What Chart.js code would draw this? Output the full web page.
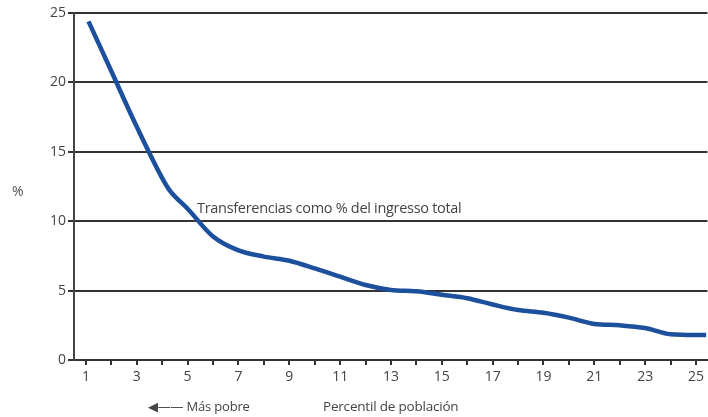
<!DOCTYPE html>
<html>
<head>
<meta charset="utf-8">
<script src="https://cdn.jsdelivr.net/npm/chart.js@4/dist/chart.umd.min.js"></script>
<style>
  html, body { margin: 0; padding: 0; background: #fff; }
  #wrap { position: relative; width: 708px; height: 417px; overflow: hidden; }
  .lbl { position: absolute; font-family: "Open Sans", "Noto Sans", sans-serif; color: #444; white-space: nowrap; }
</style>
</head>
<body>
<div id="wrap">
  <canvas id="c" width="708" height="417"></canvas>
  <div class="lbl" style="left:12px; top:181px; font-size:14px; color:#555;">%</div>
  <div class="lbl" style="left:197px; top:198px; font-size:14.5px; letter-spacing:-0.3px;">Transferencias como % del ingresso total</div>
  <div class="lbl" style="left:148px; top:397px; font-size:13px; letter-spacing:-0.2px;">&#9664;&#8212;&#8212; Más pobre</div>
  <div class="lbl" style="left:323px; top:397px; font-size:13.5px; letter-spacing:-0.2px;">Percentil de población</div>
</div>
<script>
const percentiles = [1.1, 2, 3, 4, 4.3, 5, 6, 7, 8, 9, 10, 11, 12, 13, 14, 15, 16, 17, 18, 19, 20, 21, 22, 23, 24, 25, 25.4];
const transferShare = [24.4, 20.8, 16.8, 13.1, 12.2, 10.9, 8.9, 7.9, 7.45, 7.15, 6.6, 6.0, 5.4, 5.05, 4.95, 4.7, 4.45, 4.0, 3.6, 3.4, 3.05, 2.6, 2.5, 2.3, 1.85, 1.8, 1.8];
const xTickValues = [1,2,3,4,5,6,7,8,9,10,11,12,13,14,15,16,17,18,19,20,21,22,23,24,25];
const yTickValues = [0, 5, 10, 15, 20, 25];

const points = percentiles.map((x, i) => ({ x: x, y: transferShare[i] }));
const tickFont = { family: "'Open Sans', 'Noto Sans', sans-serif", size: 14 };

new Chart(document.getElementById('c'), {
  type: 'line',
  data: {
    datasets: [{
      data: points,
      borderColor: '#1c4f9c',
      borderWidth: 4.5,
      pointRadius: 0,
      tension: 0.35,
      cubicInterpolationMode: 'monotone',
      fill: false
    }]
  },
  options: {
    responsive: false,
    animation: false,
    layout: { padding: { top: 13, right: 0, left: 0, bottom: 0 } },
    plugins: { legend: { display: false }, tooltip: { enabled: false }, title: { display: false } },
    scales: {
      x: {
        type: 'linear',
        min: 0.53,
        max: 25.45,
        afterBuildTicks: (axis) => { axis.ticks = xTickValues.map(v => ({ value: v })); },
        afterFit: (axis) => { axis.height = 57; },
        ticks: {
          autoSkip: false,
          maxRotation: 0,
          padding: 4,
          color: '#444',
          font: tickFont,
          callback: (v) => (v % 2 === 1 ? String(v) : '')
        },
        grid: { drawOnChartArea: false, drawTicks: true, tickLength: 5, color: '#333', lineWidth: 2 },
        border: { display: true, color: '#333', width: 2 }
      },
      y: {
        min: 0,
        max: 25,
        afterBuildTicks: (axis) => { axis.ticks = yTickValues.map(v => ({ value: v })); },
        afterFit: (axis) => { axis.width = 74; },
        ticks: { padding: 2, color: '#444', font: tickFont },
        grid: { color: '#333', lineWidth: 2, drawTicks: true, tickLength: 6 },
        border: { display: true, color: '#444', width: 2 }
      }
    }
  }
});
</script>
</body>
</html>
